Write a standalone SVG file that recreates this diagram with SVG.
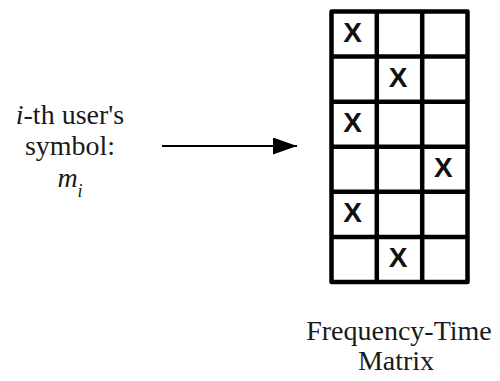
<svg xmlns="http://www.w3.org/2000/svg" width="500" height="381" viewBox="0 0 500 381">
  <style>
    .lbl { font-family: "Liberation Serif", "Times New Roman", serif; font-size: 28px; fill: #1a1a1a; text-anchor: middle; }
    .mark { font-family: "Liberation Sans", Arial, sans-serif; font-size: 28px; font-weight: bold; fill: #111; text-anchor: middle; }
    .grid { fill: none; stroke: #000; stroke-width: 4.5; stroke-linejoin: round; }
  </style>
  <defs>
    <marker id="arrowhead" markerWidth="24" markerHeight="17" refX="24" refY="8.5" orient="auto" markerUnits="userSpaceOnUse">
      <path d="M0,0 L24,8.5 L0,17 Z" fill="#000"/>
    </marker>
  </defs>
  <rect width="500" height="381" fill="#fff"/>

  <g id="symbol-label">
    <text class="lbl" x="70" y="124"><tspan font-style="italic">i</tspan>-th user's</text>
    <text class="lbl" x="70" y="155">symbol:</text>
    <text class="lbl" x="70" y="187"><tspan font-style="italic">m</tspan><tspan font-style="italic" font-size="18" dy="10">i</tspan></text>
  </g>

  <g id="connectors">
    <line x1="162" y1="146" x2="297" y2="146" stroke="#000" stroke-width="2" marker-end="url(#arrowhead)"/>
  </g>

  <g id="matrix">
    <rect class="grid" x="331.5" y="11.5" width="136" height="270.5"/>
    <path class="grid" d="M376.8,11.5 V282 M422.2,11.5 V282 M331.5,56.6 H467.5 M331.5,101.7 H467.5 M331.5,146.8 H467.5 M331.5,191.8 H467.5 M331.5,236.9 H467.5"/>
    <text class="mark" x="352.7" y="41.5">X</text>
    <text class="mark" x="398" y="86.6">X</text>
    <text class="mark" x="352.7" y="131.7">X</text>
    <text class="mark" x="443.4" y="176.8">X</text>
    <text class="mark" x="352.7" y="221.8">X</text>
    <text class="mark" x="398" y="266.9">X</text>
  </g>

  <g id="matrix-label">
    <text class="lbl" x="399" y="340">Frequency-Time</text>
    <text class="lbl" x="396" y="370">Matrix</text>
  </g>
</svg>
